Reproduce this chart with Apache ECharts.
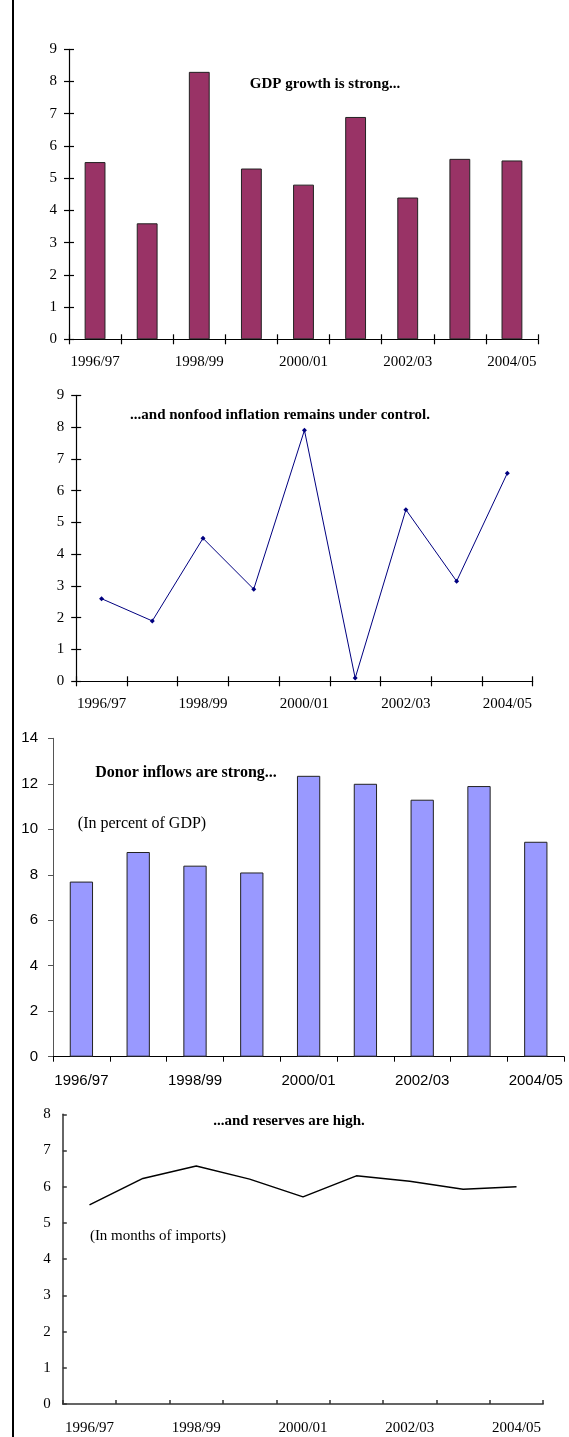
<!DOCTYPE html>
<html>
<head>
<meta charset="utf-8">
<script src="https://cdn.jsdelivr.net/npm/echarts@6/dist/echarts.min.js"></script>
<style>
  html, body { margin: 0; padding: 0; background: #fff; }
  #chart { width: 569px; height: 1437px; }
</style>
</head>
<body>
<div id="chart"></div>
<script>
// Fiscal years (category axis labels)
const years = ['1996/97', '1997/98', '1998/99', '1999/00', '2000/01', '2001/02', '2002/03', '2003/04', '2004/05'];

// Real GDP growth, percent
const gdpGrowth = [5.5, 3.6, 8.3, 5.3, 4.8, 6.9, 4.4, 5.6, 5.55];
// Nonfood inflation, percent
const nonfoodInflation = [2.6, 1.9, 4.5, 2.9, 7.9, 0.1, 5.4, 3.15, 6.55];
// Donor inflows, percent of GDP
const donorInflows = [7.7, 9.0, 8.4, 8.1, 12.35, 12.0, 11.3, 11.9, 9.45];
// Gross reserves, months of imports
const reserveMonths = [5.5, 6.23, 6.57, 6.21, 5.72, 6.3, 6.15, 5.93, 6.0];

const SERIF = '"Liberation Serif", "Times New Roman", serif';
const SANS = '"Liberation Sans", Arial, sans-serif';

const grids = [];
const xAxes = [];
const yAxes = [];
const series = [];

// Builds one panel: grid, axes (optionally with cross ticks) and its series.
function addPanel(cfg) {
  const gi = grids.length;
  grids.push(Object.assign({ containLabel: false }, cfg.grid));

  const lineStyle = { color: cfg.axisColor, width: cfg.axisWidth };
  const yLineStyle = { color: cfg.yAxisColor || cfg.axisColor, width: cfg.axisWidth };
  const labelFont = { fontFamily: cfg.font, fontSize: 15, color: '#000' };

  const xi = xAxes.length;
  xAxes.push({
    gridIndex: gi, type: 'category', data: years, boundaryGap: true, position: 'bottom',
    axisLine: { show: true, onZero: false, lineStyle },
    axisTick: { show: true, interval: 0, inside: cfg.xTickInside, length: cfg.tickLen, lineStyle },
    axisLabel: Object.assign({ interval: 1, margin: cfg.xLabelMargin }, labelFont),
    splitLine: { show: false }
  });
  if (cfg.xCross) {
    xAxes.push({
      gridIndex: gi, type: 'category', data: years, boundaryGap: true, position: 'bottom',
      axisLine: { show: false, onZero: false },
      axisTick: { show: true, interval: 0, inside: true, length: cfg.tickLen, lineStyle },
      axisLabel: { show: false }, splitLine: { show: false }
    });
  }

  const yi = yAxes.length;
  yAxes.push({
    gridIndex: gi, type: 'value', min: 0, max: cfg.yMax, interval: cfg.yStep, position: 'left',
    axisLine: { show: true, lineStyle: yLineStyle },
    axisTick: { show: true, inside: cfg.yTickInside, length: cfg.tickLen, lineStyle: yLineStyle },
    axisLabel: Object.assign({ margin: cfg.yLabelMargin }, labelFont),
    splitLine: { show: false }
  });
  if (cfg.yCross) {
    yAxes.push({
      gridIndex: gi, type: 'value', min: 0, max: cfg.yMax, interval: cfg.yStep, position: 'left',
      axisLine: { show: false },
      axisTick: { show: true, inside: true, length: cfg.tickLen, lineStyle: yLineStyle },
      axisLabel: { show: false }, splitLine: { show: false }
    });
  }

  series.push(Object.assign({ xAxisIndex: xi, yAxisIndex: yi, silent: true, animation: false }, cfg.series));
}

// GDP growth (bars)
addPanel({
  grid: { left: 69, top: 49.3, width: 469, height: 290 },
  font: SERIF, axisColor: '#000', axisWidth: 1.2, tickLen: 5,
  xTickInside: false, yTickInside: false, xCross: true, yCross: true,
  yMax: 9, yStep: 1, yLabelMargin: 12, xLabelMargin: 15,
  series: {
    type: 'bar', data: gdpGrowth, barWidth: '40%',
    itemStyle: { color: '#993366', borderColor: '#222', borderWidth: 1 }
  }
});

// Nonfood inflation (line with markers)
addPanel({
  grid: { left: 76.2, top: 395.3, width: 456.5, height: 286 },
  font: SERIF, axisColor: '#000', axisWidth: 1.2, tickLen: 5,
  xTickInside: false, yTickInside: false, xCross: true, yCross: true,
  yMax: 9, yStep: 1, yLabelMargin: 12, xLabelMargin: 15,
  series: {
    type: 'line', data: nonfoodInflation, symbol: 'diamond', symbolSize: 5,
    lineStyle: { color: '#000080', width: 1 },
    itemStyle: { color: '#000080' }
  }
});

// Donor inflows (bars)
addPanel({
  grid: { left: 53, top: 738.3, width: 511.2, height: 318.4 },
  font: SANS, axisColor: '#000', yAxisColor: '#555', axisWidth: 1, tickLen: 5,
  xTickInside: false, yTickInside: false, xCross: false, yCross: false,
  yMax: 14, yStep: 2, yLabelMargin: 15, xLabelMargin: 17,
  series: {
    type: 'bar', data: donorInflows, barWidth: '41%',
    itemStyle: { color: '#9999FF', borderColor: '#222', borderWidth: 1 }
  }
});

// Reserves (plain line)
addPanel({
  grid: { left: 62.8, top: 1114.3, width: 480.4, height: 289.7 },
  font: SERIF, axisColor: '#333', axisWidth: 1.5, tickLen: 4,
  xTickInside: true, yTickInside: true, xCross: false, yCross: false,
  yMax: 8, yStep: 1, yLabelMargin: 12, xLabelMargin: 17,
  series: {
    type: 'line', data: reserveMonths, symbol: 'none',
    lineStyle: { color: '#000', width: 1.5 }
  }
});

function label(text, x, y, size, weight) {
  return {
    type: 'text', x: x, y: y, silent: true,
    style: {
      text: text, fill: '#000',
      font: (weight || 'normal') + ' ' + size + 'px ' + SERIF,
      align: 'center', verticalAlign: 'middle',
      textAlign: 'center', textVerticalAlign: 'middle'
    }
  };
}

const graphics = [
  // left page rule
  { type: 'rect', silent: true, shape: { x: 12, y: 0, width: 2, height: 1437 }, style: { fill: '#000' } },
  label('GDP growth is strong...', 325, 84, 15, 'bold'),
  label('...and nonfood inflation remains under control.', 280, 415, 15, 'bold'),
  label('Donor inflows are strong...', 186, 772.7, 16, 'bold'),
  label('(In percent of GDP)', 142, 823.3, 16),
  label('...and reserves are high.', 289, 1120.7, 15, 'bold'),
  label('(In months of imports)', 158, 1235.7, 15)
];

const chart = echarts.init(document.getElementById('chart'), null, { renderer: 'canvas' });
chart.setOption({
  animation: false,
  backgroundColor: '#fff',
  grid: grids,
  xAxis: xAxes,
  yAxis: yAxes,
  series: series,
  graphic: graphics
});
</script>
</body>
</html>
